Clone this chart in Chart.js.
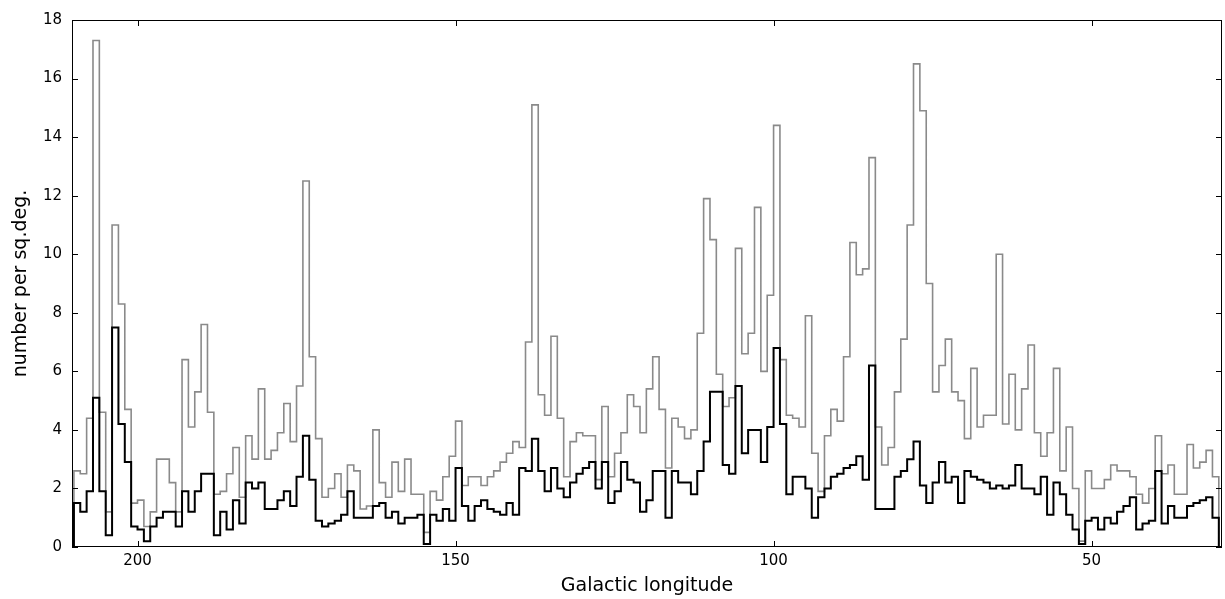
<!DOCTYPE html>
<html>
<head>
<meta charset="utf-8">
<script src="https://cdn.jsdelivr.net/npm/chart.js@4/dist/chart.umd.min.js"></script>
<style>
  html, body { margin: 0; padding: 0; background: #fff; }
  #wrap { width: 1225px; height: 599px; }
</style>
</head>
<body>
<div id="wrap"><canvas id="chart" width="1225" height="599"></canvas></div>
<script>
// Histogram of sources per square degree along the Galactic plane.
// Bins are 1 degree wide, running from l = 210 down to l = 30.
const firstEdge = 210;
const binWidth = 1;

// all sources (grey outline)
const densityTotal = [
  2.6, 2.5, 4.4, 17.3, 4.6, 1.2, 11.0, 8.3, 4.7, 1.5,
  1.6, 0.7, 1.2, 3.0, 3.0, 2.2, 1.2, 6.4, 4.1, 5.3,
  7.6, 4.6, 1.8, 1.9, 2.5, 3.4, 1.7, 3.8, 3.0, 5.4,
  3.0, 3.3, 3.9, 4.9, 3.6, 5.5, 12.5, 6.5, 3.7, 1.7,
  2.0, 2.5, 1.7, 2.8, 2.6, 1.3, 1.4, 4.0, 2.2, 1.7,
  2.9, 1.9, 3.0, 1.8, 1.8, 0.5, 1.9, 1.6, 2.4, 3.1,
  4.3, 2.1, 2.4, 2.4, 2.1, 2.4, 2.6, 2.9, 3.2, 3.6,
  3.4, 7.0, 15.1, 5.2, 4.5, 7.2, 4.4, 2.4, 3.6, 3.9,
  3.8, 3.8, 2.3, 4.8, 2.4, 3.2, 3.9, 5.2, 4.8, 3.9,
  5.4, 6.5, 4.7, 2.7, 4.4, 4.1, 3.7, 4.0, 7.3, 11.9,
  10.5, 5.9, 4.8, 5.1, 10.2, 6.6, 7.3, 11.6, 6.0, 8.6,
  14.4, 6.4, 4.5, 4.4, 4.1, 7.9, 3.2, 1.9, 3.8, 4.7,
  4.3, 6.5, 10.4, 9.3, 9.5, 13.3, 4.1, 2.8, 3.4, 5.3,
  7.1, 11.0, 16.5, 14.9, 9.0, 5.3, 6.2, 7.1, 5.3, 5.0,
  3.7, 6.1, 4.1, 4.5, 4.5, 10.0, 4.2, 5.9, 4.0, 5.4,
  6.9, 3.9, 3.1, 3.9, 6.1, 2.6, 4.1, 2.0, 0.2, 2.6,
  2.0, 2.0, 2.3, 2.8, 2.6, 2.6, 2.4, 1.8, 1.5, 2.0,
  3.8, 2.5, 2.8, 1.8, 1.8, 3.5, 2.7, 2.9, 3.3, 2.4
];

// subsample (black outline)
const densitySubset = [
  1.5, 1.2, 1.9, 5.1, 1.9, 0.4, 7.5, 4.2, 2.9, 0.7,
  0.6, 0.2, 0.7, 1.0, 1.2, 1.2, 0.7, 1.9, 1.2, 1.9,
  2.5, 2.5, 0.4, 1.2, 0.6, 1.6, 0.8, 2.2, 2.0, 2.2,
  1.3, 1.3, 1.6, 1.9, 1.4, 2.4, 3.8, 2.3, 0.9, 0.7,
  0.8, 0.9, 1.1, 1.9, 1.0, 1.0, 1.0, 1.4, 1.5, 1.0,
  1.2, 0.8, 1.0, 1.0, 1.1, 0.1, 1.1, 0.9, 1.3, 0.9,
  2.7, 1.4, 0.9, 1.4, 1.6, 1.3, 1.2, 1.1, 1.5, 1.1,
  2.7, 2.6, 3.7, 2.6, 1.9, 2.7, 2.0, 1.7, 2.2, 2.5,
  2.7, 2.9, 2.0, 2.9, 1.5, 1.9, 2.9, 2.3, 2.2, 1.2,
  1.6, 2.6, 2.6, 1.0, 2.6, 2.2, 2.2, 1.8, 2.6, 3.6,
  5.3, 5.3, 2.8, 2.5, 5.5, 3.2, 4.0, 4.0, 2.9, 4.1,
  6.8, 4.2, 1.8, 2.4, 2.4, 2.0, 1.0, 1.7, 2.0, 2.4,
  2.5, 2.7, 2.8, 3.1, 2.3, 6.2, 1.3, 1.3, 1.3, 2.4,
  2.6, 3.0, 3.6, 2.1, 1.5, 2.2, 2.9, 2.2, 2.4, 1.5,
  2.6, 2.4, 2.3, 2.2, 2.0, 2.1, 2.0, 2.1, 2.8, 2.0,
  2.0, 1.8, 2.4, 1.1, 2.2, 1.8, 1.1, 0.6, 0.1, 0.9,
  1.0, 0.6, 1.0, 0.8, 1.2, 1.4, 1.7, 0.6, 0.8, 0.9,
  2.6, 0.8, 1.4, 1.0, 1.0, 1.4, 1.5, 1.6, 1.7, 1.0
];

const xTickValues = [200, 150, 100, 50];
const yTickStep = 2;

// turn bin heights into an outline: up from 0 at the first edge,
// one point per bin start, back down to 0 at the last edge
function histOutline(values) {
    const pts = [{ x: firstEdge, y: 0 }];
    values.forEach((v, i) => {
        pts.push({ x: firstEdge - i * binWidth, y: v });
    });
    pts.push({ x: firstEdge - values.length * binWidth, y: 0 });
    return pts;
}

// matplotlib-style frame with inward ticks on all four sides
const frameTicks = {
    id: 'frameTicks',
    afterDatasetsDraw(chart) {
        const { ctx, chartArea: a, scales } = chart;
        const len = 6;
        ctx.save();
        ctx.strokeStyle = '#000';
        ctx.lineWidth = 1;
        ctx.strokeRect(a.left + 0.5, a.top + 0.5, a.right - a.left - 1, a.bottom - a.top - 1);
        ctx.beginPath();
        scales.x.ticks.forEach(t => {
            const px = Math.round(scales.x.getPixelForValue(t.value)) + 0.5;
            ctx.moveTo(px, a.bottom); ctx.lineTo(px, a.bottom - len);
            ctx.moveTo(px, a.top); ctx.lineTo(px, a.top + len);
        });
        scales.y.ticks.forEach(t => {
            const py = Math.round(scales.y.getPixelForValue(t.value)) + 0.5;
            ctx.moveTo(a.left, py); ctx.lineTo(a.left + len, py);
            ctx.moveTo(a.right, py); ctx.lineTo(a.right - len, py);
        });
        ctx.stroke();
        ctx.restore();
    }
};

const font = 'DejaVu Sans';

new Chart(document.getElementById('chart'), {
    type: 'line',
    data: {
        datasets: [
            {
                data: histOutline(densitySubset),
                borderColor: '#000000',
                borderWidth: 2,
                stepped: true,
                pointRadius: 0,
                fill: false
            },
            {
                data: histOutline(densityTotal),
                borderColor: '#8a8a8a',
                borderWidth: 1.6,
                stepped: true,
                pointRadius: 0,
                fill: false
            }
        ]
    },
    options: {
        responsive: false,
        animation: false,
        layout: { padding: { top: 20, right: 3, left: 0, bottom: 0 } },
        plugins: { legend: { display: false }, tooltip: { enabled: false } },
        scales: {
            x: {
                type: 'linear',
                reverse: true,
                min: 29.5,
                max: 210.3,
                afterBuildTicks: s => { s.ticks = xTickValues.map(v => ({ value: v })); },
                afterFit: s => { s.height = 52; },
                grid: { display: false, drawTicks: false },
                border: { display: false },
                ticks: { color: '#000', padding: 5, font: { family: font, size: 15 }, maxRotation: 0 },
                title: {
                    display: true,
                    text: 'Galactic longitude',
                    color: '#000',
                    font: { family: font, size: 19 },
                    padding: { top: 0, bottom: 2 }
                }
            },
            y: {
                min: 0,
                max: 18,
                afterFit: s => { s.width = 72; },
                grid: { display: false, drawTicks: false },
                border: { display: false },
                ticks: { stepSize: yTickStep, color: '#000', padding: 10, font: { family: font, size: 15 } },
                title: {
                    display: true,
                    text: 'number per sq.deg.',
                    color: '#000',
                    font: { family: font, size: 19 },
                    padding: { top: 10, bottom: 0 }
                }
            }
        }
    },
    plugins: [frameTicks]
});
</script>
</body>
</html>
